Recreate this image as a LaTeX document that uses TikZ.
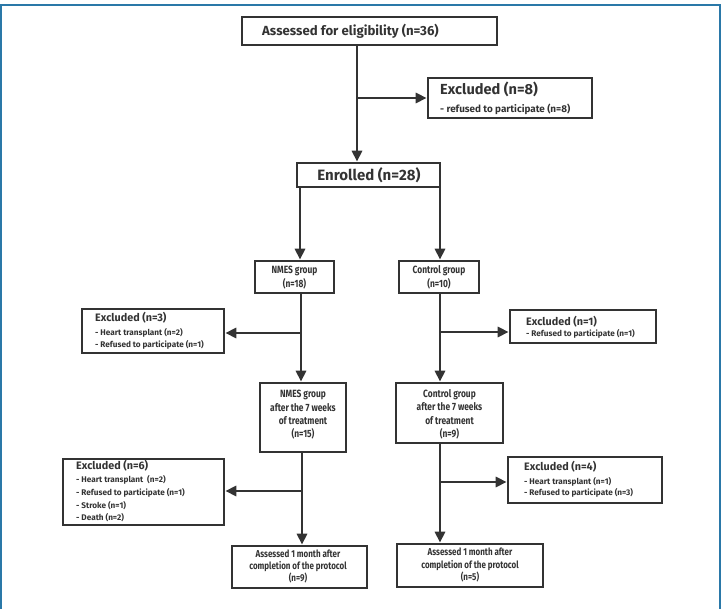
\documentclass[tikz,border=0pt]{standalone}
\usepackage{fontspec}
\setmainfont{Fira Sans}[FakeStretch=0.8]
\newfontfamily\widefont{Fira Sans}
\usetikzlibrary{arrows.meta}
\definecolor{ink}{HTML}{333333}
\definecolor{frameblue}{HTML}{2A78A8}
\begin{document}
\begin{tikzpicture}[x=1pt,y=-1pt,
  box/.style={draw=ink,line width=2.6pt,inner sep=0pt},
  arr/.style={draw=ink,line width=2.8pt,-{Triangle[length=11pt,width=10pt]}},
  txt/.style={text=ink,inner sep=0pt,font=\bfseries},
  big/.style={txt,font=\widefont\bfseries\fontsize{13.2}{16}\selectfont},
  mid/.style={txt,align=center,font=\bfseries\fontsize{10.5}{13.4}\selectfont},
  ttl/.style={txt,anchor=west,font=\widefont\bfseries\fontsize{10.8}{13}\selectfont},
  itm/.style={txt,anchor=west,font=\widefont\bfseries\fontsize{8.2}{10}\selectfont}]
\useasboundingbox (0,0) rectangle (724,609);
\draw[frameblue,line width=2pt] (1,609) -- (1,5) -- (720,5) -- (720,609);

% boxes
\node[box,minimum width=255pt,minimum height=28pt] (assess) at (369.5,31) {};
\node[box,minimum width=164pt,minimum height=40pt] (exc8) at (510,98) {};
\node[box,minimum width=143pt,minimum height=24pt] (enr) at (368.5,175) {};
\node[box,minimum width=79pt,minimum height=32pt] (nmes) at (294.5,277) {};
\node[box,minimum width=80pt,minimum height=32pt] (ctrl) at (439,277) {};
\node[box,minimum width=142pt,minimum height=44pt] (exc3) at (153,331) {};
\node[box,minimum width=146pt,minimum height=33pt] (exc1) at (583,326.5) {};
\node[box,minimum width=86pt,minimum height=69pt] (nmes2) at (303,417.5) {};
\node[box,minimum width=107pt,minimum height=60pt] (ctrl2) at (449.5,413) {};
\node[box,minimum width=161pt,minimum height=66pt] (exc6) at (143.5,492) {};
\node[box,minimum width=154pt,minimum height=46pt] (exc4) at (585,480) {};
\node[box,minimum width=135pt,minimum height=42pt] (fin1) at (299.5,567) {};
\node[box,minimum width=146pt,minimum height=43pt] (fin2) at (470,565.5) {};

% texts
\node[big,anchor=west] (assessT) at (262,31) {Assessed for eligibility (n=36)};
\node[big,anchor=west,font=\widefont\bfseries\fontsize{14.6}{16}\selectfont] (exc8T) at (440,89) {Excluded (n=8)};
\node[itm,font=\widefont\bfseries\fontsize{9.9}{11}\selectfont] (exc8a) at (440,109) {- refused to participate (n=8)};
\node[big,font=\widefont\bfseries\fontsize{15}{17}\selectfont] (enrT) at (369,175) {Enrolled (n=28)};
\node[mid] (nmesT) at (294.5,277.5) {NMES group\\(n=18)};
\node[mid] (ctrlT) at (439,277.5) {Control group\\(n=10)};
\node[ttl] (exc3T) at (95,318) {Excluded (n=3)};
\node[itm] (exc3a) at (95,333) {- Heart transplant (n=2)};
\node[itm] (exc3b) at (95,345) {- Refused to participate (n=1)};
\node[ttl] (exc1T) at (526,322) {Excluded (n=1)};
\node[itm] (exc1a) at (526,334) {- Refused to participate (n=1)};
\node[mid] (nmes2T) at (303,415) {NMES group\\after the 7 weeks\\of treatment\\(n=15)};
\node[mid] (ctrl2T) at (449.5,414.5) {Control group\\after the 7 weeks\\of treatment\\(n=9)};
\node[ttl] (exc6T) at (76,466) {Excluded (n=6)};
\node[itm] (exc6a) at (76,480) {- Heart transplant\ \ (n=2)};
\node[itm] (exc6b) at (76,493) {- Refused to participate (n=1)};
\node[itm] (exc6c) at (76,506) {- Stroke (n=1)};
\node[itm] (exc6d) at (76,518) {- Death (n=2)};
\node[ttl] (exc4T) at (524,467) {Excluded (n=4)};
\node[itm] (exc4a) at (524,482) {- Heart transplant (n=1)};
\node[itm] (exc4b) at (524,493) {- Refused to participate (n=3)};
\node[mid,font=\bfseries\fontsize{10}{12}\selectfont] (fin1T) at (298,567) {Assessed 1 month after\\completion of the protocol\\(n=9)};
\node[mid,font=\bfseries\fontsize{10}{12.5}\selectfont] (fin2T) at (470,565.5) {Assessed 1 month after\\completion of the protocol\\(n=5)};

% junctions
\coordinate (j1) at (357,98);
\coordinate (xl) at (300,0);
\coordinate (xr) at (440,0);
\coordinate (j3) at (301,333);
\coordinate (j4) at (440,332);
\coordinate (j5) at (302,491);
\coordinate (j6) at (440,482);

% connectors
\draw[arr] (assess.south -| j1) -- (enr.north -| j1);
\draw[arr] (j1) -- (exc8.west |- j1);
\draw[arr] (enr.south -| xl) -- (nmes.north -| xl);
\draw[arr] (enr.south -| xr) -- (ctrl.north -| xr);
\draw[arr] (nmes.south -| j3) -- (nmes2.north -| j3);
\draw[arr] (j3) -- (exc3.east |- j3);
\draw[arr] (ctrl.south -| j4) -- (ctrl2.north -| j4);
\draw[arr] (j4) -- (exc1.west |- j4);
\draw[arr] (nmes2.south -| j5) -- (fin1.north -| j5);
\draw[arr] (j5) -- (exc6.east |- j5);
\draw[arr] (ctrl2.south -| j6) -- (fin2.north -| j6);
\draw[arr] (j6) -- (exc4.west |- j6);
\end{tikzpicture}
\end{document}
